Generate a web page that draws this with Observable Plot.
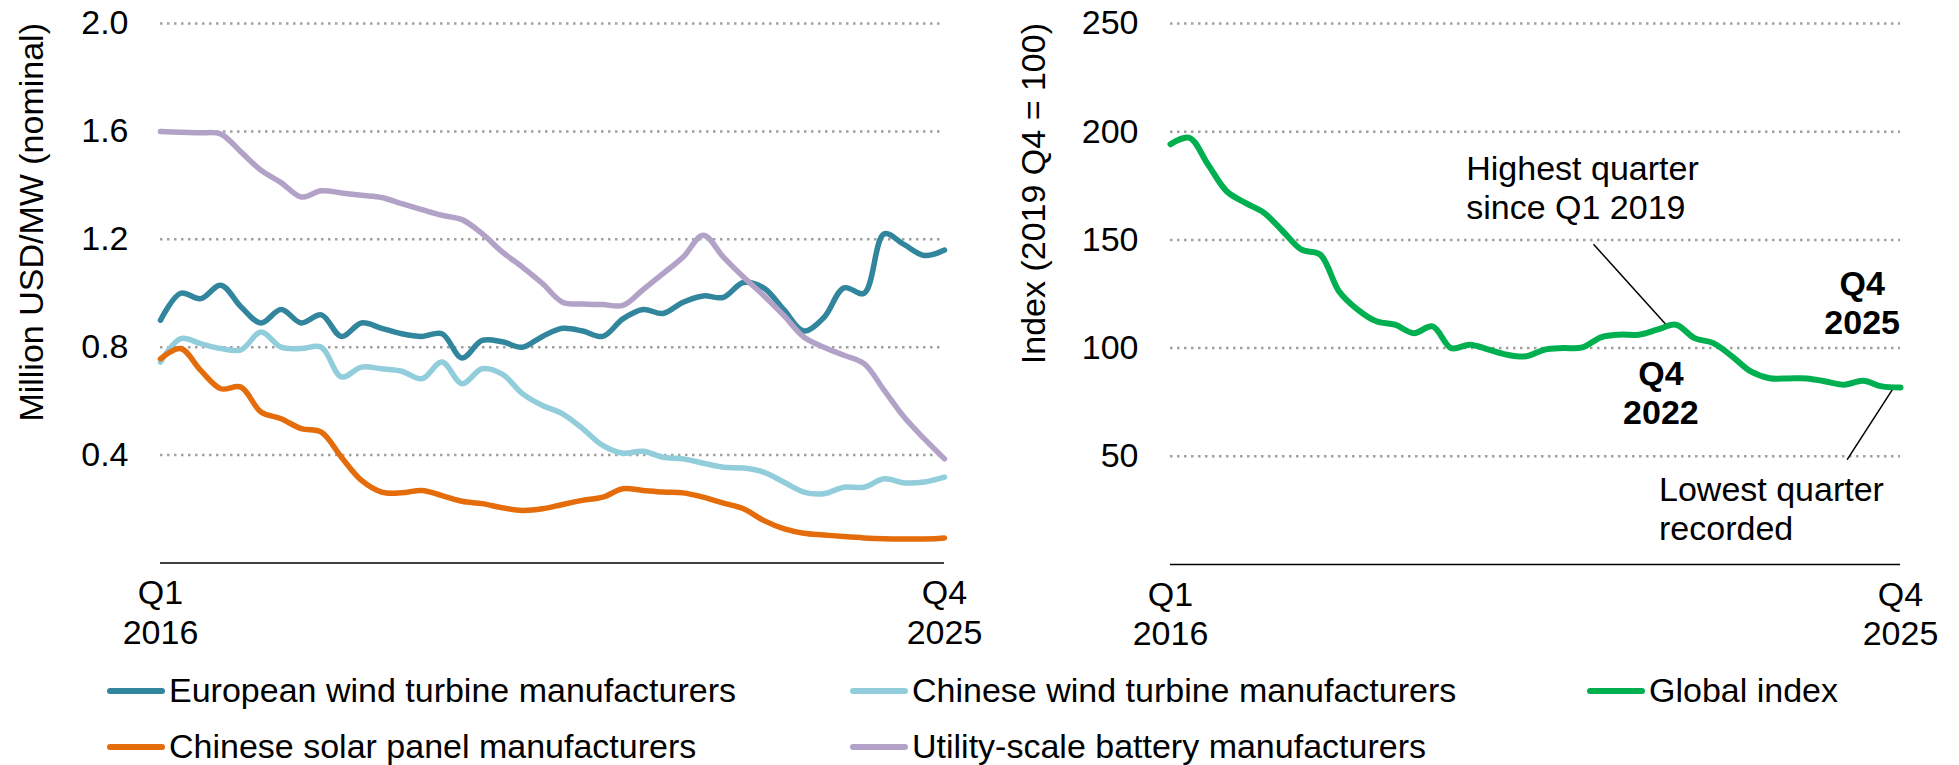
<!DOCTYPE html>
<html>
<head>
<meta charset="utf-8">
<script src="https://cdn.jsdelivr.net/npm/d3@7"></script>
<script src="https://cdn.jsdelivr.net/npm/@observablehq/plot@0.6"></script>
<style>
  html, body { margin: 0; padding: 0; background: #fff; }
  #root { position: relative; width: 1959px; height: 765px; overflow: hidden; font-family: "Liberation Sans", Arial, Helvetica, sans-serif; }
  #left, #right { position: absolute; top: 0; }
  #left { left: 0; }
  #right { left: 1000px; }
  #legend { position: absolute; left: 0; top: 0; }
</style>
</head>
<body>
<div id="root">
  <div id="left"></div>
  <div id="right"></div>
  <svg id="legend" width="1959" height="765"></svg>
</div>
<script>
// ---------------- DATA ----------------
// Quarterly values, Q1 2016 (index 0) to Q4 2025 (index 39)
const xTickQuarters = [0, 39];
const xTickLabels = ["Q1\n2016", "Q4\n2025"];

const leftTicks = [0.4, 0.8, 1.2, 1.6, 2.0];
const rightTicks = [50, 100, 150, 200, 250];

const leftTitle = "Million USD/MW (nominal)";
const rightTitle = "Index (2019 Q4 = 100)";

const european = [0.90, 1.00, 0.98, 1.03, 0.95, 0.89, 0.94, 0.89, 0.92, 0.84,
                  0.89, 0.87, 0.85, 0.84, 0.85, 0.76, 0.825, 0.82, 0.80, 0.84,
                  0.87, 0.86, 0.84, 0.905, 0.94, 0.925, 0.967, 0.99, 0.985, 1.04,
                  1.02, 0.94, 0.86, 0.91, 1.02, 1.00, 1.22, 1.18, 1.14, 1.16];

const chineseWind = [0.745, 0.832, 0.813, 0.795, 0.79, 0.856, 0.80, 0.795, 0.80, 0.69,
                     0.726, 0.72, 0.711, 0.683, 0.745, 0.665, 0.72, 0.70, 0.628, 0.584,
                     0.553, 0.498, 0.436, 0.407, 0.414, 0.392, 0.386, 0.37, 0.355, 0.352,
                     0.337, 0.30, 0.263, 0.257, 0.281, 0.281, 0.312, 0.297, 0.30, 0.318];

const chineseSolar = [0.757, 0.795, 0.714, 0.646, 0.652, 0.56, 0.535, 0.498, 0.485, 0.392,
                      0.306, 0.263, 0.26, 0.269, 0.25, 0.229, 0.22, 0.205, 0.195, 0.201,
                      0.217, 0.232, 0.244, 0.275, 0.269, 0.263, 0.26, 0.244, 0.222, 0.201,
                      0.158, 0.127, 0.11, 0.104, 0.098, 0.093, 0.09, 0.089, 0.089, 0.093];

const battery = [1.60, 1.597, 1.595, 1.59, 1.524, 1.456, 1.41, 1.357, 1.38, 1.372,
                 1.363, 1.355, 1.332, 1.31, 1.289, 1.273, 1.221, 1.153, 1.097, 1.036,
                 0.967, 0.96, 0.958, 0.955, 1.013, 1.073, 1.134, 1.215, 1.134, 1.06,
                 0.992, 0.918, 0.838, 0.80, 0.77, 0.739, 0.64, 0.54, 0.46, 0.386];

const globalIndex = [194.2, 197.2, 184.9, 172.5, 167.1, 162.5, 154, 145.5, 143.2, 126.3,
                     117.8, 112.4, 110.8, 106.9, 110, 100, 101.6, 99.3, 96.9, 96.2,
                     99.3, 100, 100.3, 105, 106.2, 106.2, 108.5, 110.8, 104.6, 102.3,
                     96.2, 89.2, 86.1, 86, 86, 84.6, 83.1, 84.9, 82.3, 81.8];

const seriesNames = ["European wind turbine manufacturers", "Chinese wind turbine manufacturers",
                     "Global index", "Chinese solar panel manufacturers", "Utility-scale battery manufacturers"];
const seriesColors = ["#31859c", "#92cddc", "#00b050", "#e46c0a", "#b3a2c7"];

// Annotations (right chart), in data units: quarter index and index value
const noteText = ["Highest quarter\nsince Q1 2019", "Q4\n2022", "Q4\n2025", "Lowest quarter\nrecorded"];
const noteQ = [15.8, 26.2, 36.95, 26.1];
const noteV = [159.6, 65.1, 106.3, 11.4];
const noteAnchor = ["start", "middle", "middle", "start"];
const noteWeight = ["normal", "bold", "bold", "normal"];
const leaderQ1 = [22.6, 38.6];
const leaderV1 = [148.0, 81.3];
const leaderQ2 = [26.6, 36.15];
const leaderV2 = [109.6, 48.5];

// ---------------- CHARTS ----------------
const FONT = "'Liberation Sans', Arial, Helvetica, sans-serif";
const gridStyle = {stroke: "#a0a0a0", strokeOpacity: 1, strokeWidth: 2.5, strokeDasharray: "2.5,4.5"};
const lineOpts = (color, w) => ({x: (d, i) => i, y: d => d, stroke: color, strokeWidth: w, curve: "catmull-rom", strokeLinecap: "round", strokeLinejoin: "round"});
const xAxis = () => Plot.axisX(xTickQuarters, {
  tickSize: 0, tickPadding: 13.7, lineHeight: 1.15, fill: "#000",
  tickFormat: d => xTickLabels[xTickQuarters.indexOf(d)]
});

const left = Plot.plot({
  width: 1000, height: 660,
  marginLeft: 160, marginRight: 56, marginTop: 23, marginBottom: 97.5,
  style: {fontFamily: FONT, fontSize: "34px", color: "#000", background: "transparent", overflow: "visible"},
  x: {domain: [0, 39], axis: null},
  y: {domain: [0, 2], axis: null},
  marks: [
    Plot.gridY(leftTicks, gridStyle),
    Plot.axisY(leftTicks, {tickSize: 0, tickPadding: 32, tickFormat: d3.format(".1f"), fill: "#000"}),
    xAxis(),
    Plot.ruleY([0], {stroke: "#000", strokeWidth: 1.5}),
    Plot.line(european, lineOpts(seriesColors[0], 5.5)),
    Plot.line(chineseWind, lineOpts(seriesColors[1], 5.5)),
    Plot.line(chineseSolar, lineOpts(seriesColors[3], 5.5)),
    Plot.line(battery, lineOpts(seriesColors[4], 5.5))
  ]
});
d3.select(left).append("text")
  .attr("transform", "translate(43,23) rotate(-90)")
  .attr("text-anchor", "end").attr("fill", "#000")
  .text(leftTitle);
document.getElementById("left").appendChild(left);

const right = Plot.plot({
  width: 959, height: 660,
  marginLeft: 170, marginRight: 59, marginTop: 23, marginBottom: 96,
  style: {fontFamily: FONT, fontSize: "34px", color: "#000", background: "transparent", overflow: "visible"},
  x: {domain: [0, 39], axis: null},
  y: {domain: [0, 250], axis: null},
  marks: [
    Plot.gridY(rightTicks, gridStyle),
    Plot.axisY(rightTicks, {tickSize: 0, tickPadding: 32, tickFormat: d => String(d), fill: "#000"}),
    xAxis(),
    Plot.ruleY([0], {stroke: "#000", strokeWidth: 1.5}),
    Plot.link(leaderQ1, {x1: (d, i) => leaderQ1[i], y1: (d, i) => leaderV1[i], x2: (d, i) => leaderQ2[i], y2: (d, i) => leaderV2[i], stroke: "#000", strokeWidth: 1.5}),
    Plot.line(globalIndex, lineOpts(seriesColors[2], 6)),
    Plot.text(noteText, {
      x: (d, i) => noteQ[i], y: (d, i) => noteV[i], text: d => d,
      textAnchor: (d, i) => noteAnchor[i], lineAnchor: "bottom", lineHeight: 1.15,
      fontWeight: (d, i) => noteWeight[i], fill: "#000"
    })
  ]
});
// per-note anchors/weights (channels for textAnchor/fontWeight are constants in Plot; apply per element)
d3.select(right).selectAll("g[aria-label='text'] text").each(function(d, i) {
  this.setAttribute("text-anchor", noteAnchor[i]);
  this.setAttribute("font-weight", noteWeight[i]);
});
d3.select(right).append("text")
  .attr("transform", "translate(45,23) rotate(-90)")
  .attr("text-anchor", "end").attr("fill", "#000")
  .text(rightTitle);
document.getElementById("right").appendChild(right);

// ---------------- LEGEND ----------------
const legendOrder = [0, 1, 2, 3, 4];
const legendCols = [107, 850, 1587, 107, 850];
const legendRows = [702, 702, 702, 758, 758];
const lg = d3.select("#legend").style("font-family", FONT).style("font-size", "34px");
legendOrder.forEach((k, j) => {
  const x = legendCols[j], y = legendRows[j];
  lg.append("line").attr("x1", x + 3).attr("x2", x + 55).attr("y1", y - 11).attr("y2", y - 11)
    .attr("stroke", seriesColors[k]).attr("stroke-width", 6).attr("stroke-linecap", "round");
  lg.append("text").attr("x", x + 62).attr("y", y).attr("fill", "#000").text(seriesNames[k]);
});
</script>
</body>
</html>
